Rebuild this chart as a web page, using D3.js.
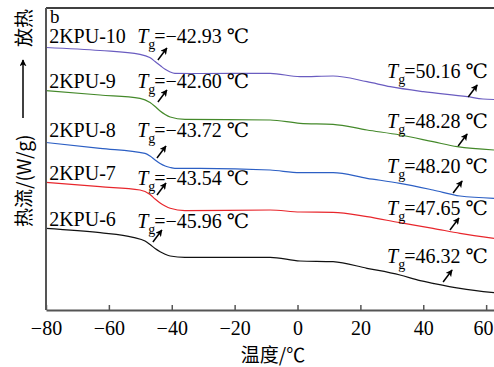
<!DOCTYPE html>
<html>
<head>
<meta charset="utf-8">
<script src="https://cdn.jsdelivr.net/npm/d3@7"></script>
<style>
  body { margin: 0; background: #fff; }
  svg { display: block; }
</style>
</head>
<body>
<figure id="dsc" style="margin:0"></figure>
<script>
// sample names (top to bottom)
const samples = ["2KPU-10", "2KPU-9", "2KPU-8", "2KPU-7", "2KPU-6"];
const colors = ["#6a5cc0", "#44892a", "#2c5fc4", "#e8262c", "#111111"];

// temperature points (°C) and heat flow (arbitrary units, curves are offset)
const temps10 = [-80, -62.8, -50.1, -47, -45.3, -43.5, -42.1, -40.5, -39, -31, -8.7, 0.8, 11.3, 22.1, 29.5, 40, 54, 59, 62.5];
const flow10  = [26.25, 25.95, 25.57, 25.25, 24.85, 24.4, 24.07, 23.8, 23.67, 23.65, 23.67, 23.33, 23.4, 22.83, 22.33, 21.83, 21.33, 21.1, 21.05];
const temps9  = [-80, -62.8, -50.1, -46.9, -45.3, -43.7, -42.1, -40.5, -35.8, -8.7, 0.8, 11.3, 22.1, 32.6, 43.1, 50.8, 62.5];
const flow9   = [21.93, 21.5, 21.17, 20.75, 20.35, 19.9, 19.55, 19.3, 19.07, 19.0, 18.67, 18.57, 18.0, 17.5, 16.83, 16.33, 16.0];
const temps8  = [-80, -62.8, -48.5, -46.9, -45.3, -43.7, -42.1, -40.5, -39, -31, -8.7, 0.8, 11.3, 22.1, 32.6, 43.1, 51.7, 62.5];
const flow8   = [16.75, 16.17, 15.67, 15.4, 15.0, 14.65, 14.4, 14.25, 14.17, 14.17, 14.0, 13.73, 13.73, 13.17, 12.67, 12.0, 11.4, 11.17];
const temps7  = [-80, -62.8, -50.1, -46.9, -45.3, -43.7, -42.1, -40.5, -35.8, -8.7, 0.8, 11.3, 22.1, 32.6, 43.1, 51.7, 62.5];
const flow7   = [12.77, 12.33, 12.0, 11.55, 11.1, 10.7, 10.4, 10.17, 9.93, 10.0, 9.8, 9.77, 9.33, 8.73, 8.17, 7.67, 7.17];
const temps6  = [-80, -62.8, -52.3, -48.5, -46.9, -45.3, -43.7, -42.1, -40.5, -35.8, -8.7, 0.8, 11.3, 22.1, 32.6, 39, 43.1, 51.7, 62.5];
const flow6   = [8.17, 7.73, 7.27, 6.9, 6.55, 6.15, 5.83, 5.58, 5.4, 5.27, 5.27, 4.9, 4.83, 4.17, 3.5, 2.93, 2.67, 2.17, 1.73];

const allTemps = [temps10, temps9, temps8, temps7, temps6];
const allFlows = [flow10, flow9, flow8, flow7, flow6];

// glass transition labels
const tgLow  = ["−42.93", "−42.60", "−43.72", "−43.54", "−45.96"];
const tgHigh = ["50.16", "48.28", "48.20", "47.65", "46.32"];

// arrow tails (temperature, heat flow) for the two transitions
const arrowLowT  = [-44.4, -44.4, -44.7, -44.7, -46.0];
const arrowLowV  = [25.0, 20.8, 15.2, 11.5, 6.8];
const arrowHighT = [54.3, 51.1, 49.5, 48.5, 46.3];
const arrowHighV = [21.3, 16.4, 11.7, 8.0, 2.8];

// label baselines (heat flow units)
const nameV    = [26.7, 22.2, 17.3, 13.0, 8.4];
const tgLowV   = [26.7, 22.2, 17.3, 12.5, 8.2];
const tgHighV  = [23.2, 18.2, 13.7, 9.5, 4.7];

const xTicks = [-80, -60, -40, -20, 0, 20, 40, 60];

const W = 494, H = 367;
const margin = { top: 8, right: 0, bottom: 57, left: 46 };
const serif = '"Liberation Serif", "DejaVu Serif", "Noto Sans CJK SC", serif';
const cjk = '"Noto Sans CJK SC", "Liberation Serif", sans-serif';

const svg = d3.select("#dsc").append("svg")
  .attr("width", W).attr("height", H);

const x = d3.scaleLinear().domain([-80, 62.5]).range([margin.left, W - margin.right]);
const y = d3.scaleLinear().domain([0, 30.2]).range([H - margin.bottom, margin.top]);

// arrowhead
svg.append("defs").append("marker")
  .attr("id", "head")
  .attr("viewBox", "0 0 10 10")
  .attr("refX", 9).attr("refY", 5)
  .attr("markerWidth", 7).attr("markerHeight", 7)
  .attr("markerUnits", "userSpaceOnUse")
  .attr("orient", "auto")
  .append("path").attr("d", "M0,0 L10,5 L0,10 L2.5,5 Z").attr("fill", "#000");

// curves
const line = d3.line().x(d => x(d[0])).y(d => y(d[1])).curve(d3.curveMonotoneX);
samples.forEach((s, i) => {
  const pts = allTemps[i].map((t, j) => [t, allFlows[i][j]]);
  svg.append("path")
    .datum(pts)
    .attr("d", line)
    .attr("fill", "none")
    .attr("stroke", colors[i])
    .attr("stroke-width", 1.2);
});

// frame: top border
svg.append("line")
  .attr("x1", x(-80)).attr("x2", W)
  .attr("y1", y(30.2)).attr("y2", y(30.2))
  .attr("stroke", "#000").attr("stroke-width", 1.5);

// left axis
svg.append("line")
  .attr("x1", x(-80)).attr("x2", x(-80))
  .attr("y1", y(30.2)).attr("y2", y(0))
  .attr("stroke", "#555").attr("stroke-width", 2);

// bottom axis, ticks inside
const xAxis = svg.append("g")
  .attr("transform", "translate(0," + y(0) + ")")
  .call(d3.axisBottom(x).tickValues(xTicks).tickSizeInner(-5).tickSizeOuter(0)
    .tickFormat(d => d < 0 ? "−" + Math.abs(d) : d));
xAxis.attr("font-family", null).attr("font-size", null);
xAxis.select(".domain").attr("stroke", "#555").attr("stroke-width", 2);
xAxis.selectAll(".tick line").attr("stroke", "#555").attr("stroke-width", 1.5);
xAxis.selectAll(".tick text")
  .attr("y", 25).attr("dy", 0)
  .attr("font-family", serif).attr("font-size", 20).attr("fill", "#000");
// last label is pulled in so it stays inside the picture
xAxis.selectAll(".tick").filter(d => d === 60).select("text")
  .attr("text-anchor", "end").attr("x", W - 1 - x(60));

// x title
svg.append("text")
  .attr("x", 273).attr("y", 362)
  .attr("text-anchor", "middle")
  .attr("font-family", cjk).attr("font-size", 19)
  .text("温度/℃");

// y title with arrow
const yt = svg.append("g").attr("transform", "translate(31,0) rotate(-90)");
yt.append("text")
  .attr("x", -227).attr("y", 0)
  .attr("font-family", cjk).attr("font-size", 19)
  .text("热流/(W/g)");
yt.append("line")
  .attr("x1", -118).attr("x2", -60)
  .attr("y1", -8).attr("y2", -8)
  .attr("stroke", "#000").attr("stroke-width", 1.5)
  .attr("marker-end", "url(#head)");
yt.append("text")
  .attr("x", -47).attr("y", 0)
  .attr("font-family", cjk).attr("font-size", 19)
  .text("放热");

// panel letter
svg.append("text")
  .attr("x", 50).attr("y", 23)
  .attr("font-family", serif).attr("font-size", 19)
  .text("b");

// labels
function tgLabel(px, py, val) {
  const t = svg.append("text")
    .attr("x", px).attr("y", py)
    .attr("font-family", serif).attr("font-size", 20);
  t.append("tspan").attr("font-style", "italic").text("T");
  t.append("tspan").attr("dy", 6).attr("font-size", 14).text("g");
  t.append("tspan").attr("dy", -6).attr("dx", -1).text("=" + val + " ℃");
}

function arrow(t, v) {
  const x0 = x(t), y0 = y(v);
  svg.append("line")
    .attr("x1", x0).attr("y1", y0)
    .attr("x2", x0 + 9).attr("y2", y0 - 12)
    .attr("stroke", "#000").attr("stroke-width", 1.5)
    .attr("marker-end", "url(#head)");
}

samples.forEach((s, i) => {
  svg.append("text")
    .attr("x", x(-79)).attr("y", y(nameV[i]))
    .attr("font-family", serif).attr("font-size", 20)
    .text(s);
  tgLabel(x(-51), y(tgLowV[i]), tgLow[i]);
  tgLabel(x(28.5), y(tgHighV[i]), tgHigh[i]);
  arrow(arrowLowT[i], arrowLowV[i]);
  arrow(arrowHighT[i], arrowHighV[i]);
});
</script>
</body>
</html>
